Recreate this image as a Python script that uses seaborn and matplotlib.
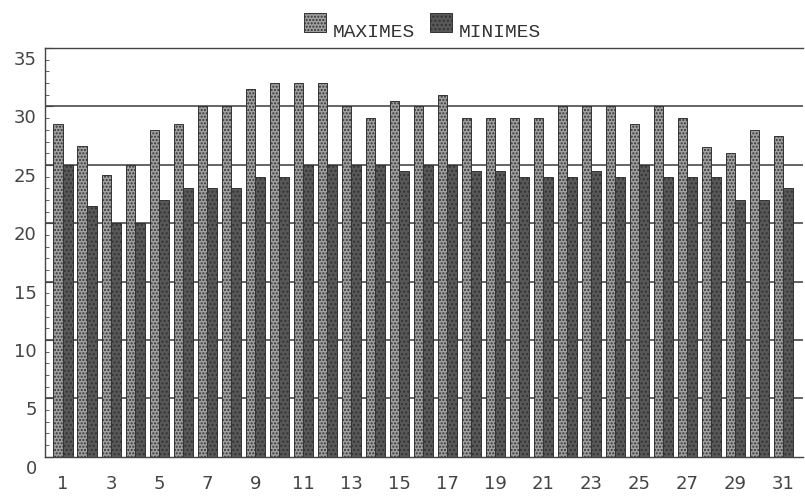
import matplotlib
matplotlib.use('Agg')
import matplotlib.pyplot as plt
import matplotlib.transforms as mtransforms
from matplotlib.patches import Patch
import numpy as np
import pandas as pd
import seaborn as sns

# Températures journalières (°C)
jours = list(range(1, 32))
maximes = [28.5, 26.6, 24.1, 25.0, 28.0, 28.5, 30.0, 30.0, 31.5, 32.0,
           32.0, 32.0, 30.0, 29.0, 30.5, 30.0, 31.0, 29.0, 29.0, 29.0,
           29.0, 30.0, 30.0, 30.0, 28.5, 30.0, 29.0, 26.5, 26.0, 28.0, 27.5]
minimes = [25.0, 21.5, 20.0, 20.0, 22.0, 23.0, 23.0, 23.0, 24.0, 24.0,
           25.0, 25.0, 25.0, 25.0, 24.5, 25.0, 25.0, 24.5, 24.5, 24.0,
           24.0, 24.0, 24.5, 24.0, 25.0, 24.0, 24.0, 24.0, 22.0, 22.0, 23.0]
series = ['MAXIMES', 'MINIMES']
y_ticks = list(range(0, 36, 5))

df = pd.DataFrame({
    'jour': jours * 2,
    'temp': maximes + minimes,
    'serie': [series[0]] * len(jours) + [series[1]] * len(jours),
})

sns.set_style('white')
plt.rcParams['font.family'] = ['DejaVu Sans']

couleurs = {'MAXIMES': '#a0a0a0', 'MINIMES': '#585858'}
hachures = {'MAXIMES': '.....', 'MINIMES': '....'}

fig = plt.figure(figsize=(8.05, 4.96), dpi=100)
ax = fig.add_axes([0.056, 0.079, 0.942, 0.824])

# grille derrière les barres
for v in y_ticks[1:-1]:
    ax.axhline(v, color='#4a4a4a', linewidth=1.2, zorder=0)

sns.barplot(data=df, x='jour', y='temp', hue='serie', palette=couleurs,
            width=0.8, gap=0, ax=ax, legend=False, zorder=2)

n = len(jours)
for i, p in enumerate(ax.patches[:2 * n]):
    s = series[0] if i < n else series[1]
    p.set_hatch(hachures[s])
    p.set_edgecolor('#333333')
    p.set_linewidth(0.7)

ax.set_ylim(0, 35)
ax.set_xlim(-0.75, 30.83)
ax.set_yticks(y_ticks)
ax.set_yticks(range(0, 36), minor=True)
ax.set_xticks(range(0, n, 2))
ax.set_xticklabels([str(j) for j in jours[::2]])
ax.set_xlabel('')
ax.set_ylabel('')

ax.tick_params(axis='y', which='major', direction='in', length=6, width=0.8,
               color='#444444', labelsize=13, labelcolor='#444444', pad=6, left=True)
ax.tick_params(axis='y', which='minor', direction='in', length=3, width=0.6,
               color='#444444', left=True)
ax.tick_params(axis='x', length=0, labelsize=13, labelcolor='#444444', pad=13)

# les étiquettes de l'axe Y sont décalées vers le bas sur l'original
decal = mtransforms.ScaledTranslation(0, -10 / 100, fig.dpi_scale_trans)
for lab in ax.get_yticklabels():
    lab.set_transform(lab.get_transform() + decal)

for side in ['left', 'bottom', 'top']:
    ax.spines[side].set_color('#444444')
    ax.spines[side].set_linewidth(1.0)
ax.spines['right'].set_visible(False)

handles = [Patch(facecolor=couleurs[s], edgecolor='#333333', hatch=hachures[s],
                 linewidth=0.7) for s in series]
leg = fig.legend(handles, series, loc='upper center', bbox_to_anchor=(0.525, 1.01),
                 ncol=2, frameon=False, handlelength=1.1, handleheight=1.2,
                 handletextpad=0.35, columnspacing=0.8,
                 prop={'family': 'Liberation Mono', 'size': 14})
# le texte de la légende est plus bas que les carrés
decal_leg = mtransforms.ScaledTranslation(0, -8 / 100, fig.dpi_scale_trans)
for t in leg.get_texts():
    t.set_color('#333333')
    t.set_transform(t.get_transform() + decal_leg)

fig.savefig('out.png', dpi=100)
